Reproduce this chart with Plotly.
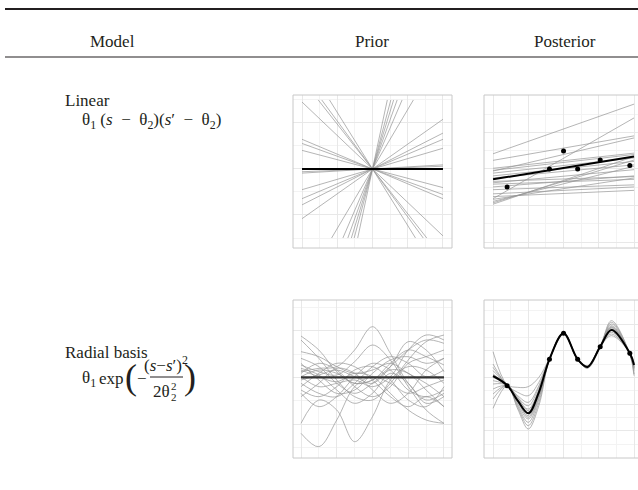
import plotly.graph_objects as go

W, H = 638, 490

# ---- linear kernel, prior: one end of each line (the other end is its mirror through 0)
prior_lin_xe = [1, 1, 1, 1, 1, 1, 1, 1, 1, 1, 0.77, 0.72, 0.61, 0.21, 0.26, 0.30, 0.35, 0.42, 0.58]
prior_lin_ye = [0.72, 0.52, 0.43, 0.30, 0.06, 0.04, -0.27, -0.37, -0.43, -0.97, -1, -1, -1, 1, 1, 1, 1, 1, 1]

# ---- linear kernel, posterior: value at s=0 and s=1 for each sampled line
post_lin_y0 = [0.22, -0.43, 0.125, -0.03, 0.01, -0.02, -0.06, -0.10, -0.13, -0.18,
               -0.22, -0.26, -0.30, -0.36, -0.40, -0.44, -0.47, -0.49, -0.51, -0.20]
post_lin_y1 = [0.94, 0.74, 0.48, 0.45, 0.23, 0.21, 0.16, 0.11, 0.06, -0.11,
               -0.15, -0.10, -0.23, -0.26, -0.31, -0.13, 0.04, 0.13, 0.18, -0.01]
post_lin_mean = [-0.15, 0.18]
obs_lin_x = [0.10, 0.40, 0.50, 0.60, 0.76, 0.97]
obs_lin_y = [-0.26, 0.0, 0.26, 0.0, 0.13, 0.05]

# ---- radial basis kernel, prior samples
rad_prior_x = [0, 0.125, 0.25, 0.375, 0.5, 0.625, 0.75, 0.875, 1]
rad_prior = [
    [0.17, 0.27, 0.32, 0.82, 1.52, 0.72, -0.18, -0.68, -0.48],
    [0.37, 0.17, 0.07, 0.47, 0.97, 0.52, -0.28, -0.98, -1.38],
    [1.24, 0.82, 0.17, -0.18, -0.08, 0.32, 0.82, 1.12, 1.02],
    [1.12, 0.57, -0.08, -0.58, -0.68, -0.18, 0.52, 1.07, 1.27],
    [-1.68, -2.08, -1.28, -0.28, 0.02, -0.18, -0.48, -0.28, -0.08],
    [-1.38, -0.68, -0.98, -1.93, -1.18, -0.08, 0.32, 0.22, -0.18],
    [0.02, -0.28, -0.18, -0.08, -0.28, 0.02, 0.82, 1.27, 1.12],
    [-0.08, 0.07, 0.22, 0.02, -0.18, 0.32, 1.07, 0.82, 0.17],
    [0.22, 0.02, -0.13, 0.12, 0.02, -0.48, -0.98, -1.28, -1.38],
    [0.57, 0.32, -0.18, -0.48, -0.18, 0.22, 0.12, -0.38, -0.88],
    [0.77, 0.62, 0.32, 0.12, 0.22, 0.42, 0.12, -0.18, -0.58],
    [-0.38, -0.58, -0.28, 0.22, 0.32, -0.08, -0.68, -0.88, -0.28],
    [-0.58, -0.18, 0.27, 0.12, -0.38, -0.78, -0.48, 0.22, 0.57],
    [0.12, 0.42, 0.22, -0.28, -0.58, -0.28, 0.42, 0.62, 0.82],
    [-0.18, -0.48, -0.58, -0.18, 0.32, 0.62, 0.42, 0.02, 0.22],
    [0.42, -0.08, -0.48, -0.38, 0.12, 0.52, 0.62, 0.42, 0.57],
    [-0.28, 0.12, 0.42, 0.32, -0.08, -0.58, -0.88, -0.58, -0.88],
    [0.27, 0.07, -0.38, -0.78, -0.48, 0.12, -0.18, -0.78, -0.58],
    [-0.48, -0.88, -0.58, 0.02, 0.42, 0.22, -0.38, -0.58, -0.38],
    [0.02, 0.22, 0.12, -0.18, -0.08, 0.42, 0.82, 0.62, 0.37],
]

# ---- radial basis kernel, posterior samples
rad_post_x = [0, 0.1, 0.175, 0.25, 0.325, 0.4, 0.5, 0.6, 0.67, 0.76, 0.84, 0.97, 1.0]
rad_post_mean = [0.04, -0.24, -0.70, -1.08, -0.45, 0.54, 1.32, 0.54, 0.31, 0.92, 1.42, 0.72, 0.37]
rad_post = [
    [0.77, -0.22, -0.30, -0.28, 0.00, 0.56, 1.30, 0.55, 0.33, 0.93, 1.30, 0.74, 0.45],
    [0.40, -0.24, -0.45, -0.55, -0.15, 0.55, 1.31, 0.54, 0.35, 0.92, 1.25, 0.73, 0.42],
    [0.30, -0.25, -0.55, -0.75, -0.25, 0.54, 1.33, 0.53, 0.30, 0.91, 1.50, 0.70, 0.30],
    [0.20, -0.24, -0.60, -0.85, -0.30, 0.53, 1.32, 0.55, 0.28, 0.93, 1.60, 0.71, 0.20],
    [0.10, -0.25, -0.65, -0.95, -0.38, 0.54, 1.34, 0.54, 0.32, 0.92, 1.45, 0.72, 0.35],
    [0.00, -0.24, -0.75, -1.15, -0.50, 0.55, 1.31, 0.53, 0.30, 0.91, 1.55, 0.70, 0.25],
    [-0.10, -0.25, -0.80, -1.25, -0.60, 0.53, 1.33, 0.55, 0.27, 0.92, 1.70, 0.69, 0.05],
    [-0.20, -0.24, -0.85, -1.35, -0.65, 0.54, 1.32, 0.54, 0.34, 0.93, 1.35, 0.73, 0.40],
    [-0.35, -0.26, -0.90, -1.45, -0.75, 0.54, 1.33, 0.53, 0.31, 0.92, 1.40, 0.72, 0.32],
    [-0.50, -0.25, -0.95, -1.55, -0.85, 0.53, 1.31, 0.55, 0.29, 0.91, 1.65, 0.70, 0.10],
    [-0.65, -0.24, -0.70, -1.20, -0.55, 0.55, 1.34, 0.54, 0.33, 0.93, 1.48, 0.71, 0.30],
    [-0.93, -0.25, -0.60, -1.00, -0.40, 0.54, 1.32, 0.53, 0.30, 0.92, 1.52, 0.72, 0.28],
]
obs_rad_x = [0.10, 0.40, 0.50, 0.60, 0.76, 0.97]
obs_rad_y = [-0.25, 0.54, 1.32, 0.54, 0.92, 0.72]

GREY = "rgba(150,150,150,0.7)"
INK = "#231f20"
FONT = "Liberation Serif"


def px(x):
    return x / W


def py(y):
    return 1 - y / H


fig = go.Figure()

# linear prior
for xe, ye in zip(prior_lin_xe, prior_lin_ye):
    fig.add_trace(go.Scatter(x=[-xe, xe], y=[-ye, ye], mode="lines",
                             line=dict(color=GREY, width=1), xaxis="x", yaxis="y"))
fig.add_trace(go.Scatter(x=[-1, 1], y=[0, 0], mode="lines",
                         line=dict(color="black", width=2), xaxis="x", yaxis="y"))

# linear posterior
for a, b in zip(post_lin_y0, post_lin_y1):
    fig.add_trace(go.Scatter(x=[0, 1], y=[a, b], mode="lines",
                             line=dict(color=GREY, width=1), xaxis="x2", yaxis="y2"))
fig.add_trace(go.Scatter(x=[0, 1], y=post_lin_mean, mode="lines",
                         line=dict(color="black", width=2), xaxis="x2", yaxis="y2"))
fig.add_trace(go.Scatter(x=obs_lin_x, y=obs_lin_y, mode="markers",
                         marker=dict(color="black", size=5), xaxis="x2", yaxis="y2"))

# radial prior
for curve in rad_prior:
    fig.add_trace(go.Scatter(x=rad_prior_x, y=curve, mode="lines",
                             line=dict(color=GREY, width=1, shape="spline"),
                             xaxis="x3", yaxis="y3"))
fig.add_trace(go.Scatter(x=[0, 1], y=[0, 0], mode="lines",
                         line=dict(color="#333", width=2.2), xaxis="x3", yaxis="y3"))

# radial posterior
for curve in rad_post:
    fig.add_trace(go.Scatter(x=rad_post_x, y=curve, mode="lines",
                             line=dict(color=GREY, width=1, shape="spline"),
                             xaxis="x4", yaxis="y4"))
fig.add_trace(go.Scatter(x=rad_post_x, y=rad_post_mean, mode="lines",
                         line=dict(color="black", width=2, shape="spline"),
                         xaxis="x4", yaxis="y4"))
fig.add_trace(go.Scatter(x=obs_rad_x, y=obs_rad_y, mode="markers",
                         marker=dict(color="black", size=5), xaxis="x4", yaxis="y4"))


def ax(domain, rng, dtick, tick0=0, anchor=None):
    d = dict(domain=domain, range=rng, showticklabels=False, ticks="", zeroline=False,
             showgrid=True, gridcolor="#e8e8e8", gridwidth=1, tick0=tick0, dtick=dtick,
             showline=False, fixedrange=True,
             minor=dict(showgrid=True, gridcolor="#f3f3f3", dtick=dtick / 2, tick0=tick0))
    if anchor:
        d["anchor"] = anchor
    return d


prior_dom = [px(293), px(452)]
post_dom = [px(484), 1.0]
lin_dom = [py(248), py(95)]
rad_dom = [py(458), py(300)]

fig.update_layout(
    width=W, height=H, margin=dict(l=0, r=0, t=0, b=0),
    paper_bgcolor="white", plot_bgcolor="white", showlegend=False,
    xaxis=ax(prior_dom, [-1.128, 1.128], 0.5, anchor="y"),
    yaxis=ax(lin_dom, [-1.145, 1.072], 0.6667, anchor="x"),
    xaxis2=ax(post_dom, [-0.064, 1.028], 0.25, anchor="y2"),
    yaxis2=ax(lin_dom, [-1.145, 1.072], 0.53, anchor="x2"),
    xaxis3=ax(prior_dom, [-0.056, 1.056], 0.25, anchor="y3"),
    yaxis3=ax(rad_dom, [-2.42, 2.32], 1.4, anchor="x3"),
    xaxis4=ax(post_dom, [-0.064, 1.028], 0.25, anchor="y4"),
    yaxis4=ax(rad_dom, [-2.42, 2.32], 0.8, anchor="x4"),
)

# panel borders
border = dict(color="#c8c8c8", width=1)
for x0, x1 in [(293, 452), (484, 643)]:
    for y0, y1 in [(95, 248), (300, 458)]:
        fig.add_shape(type="rect", xref="paper", yref="paper",
                      x0=px(x0), x1=px(x1), y0=py(y1), y1=py(y0), line=border)

# table rules
fig.add_shape(type="line", xref="paper", yref="paper", x0=px(5), x1=1, y0=py(9), y1=py(9),
              line=dict(color=INK, width=2))
fig.add_shape(type="line", xref="paper", yref="paper", x0=px(5), x1=1, y0=py(57), y1=py(57),
              line=dict(color=INK, width=1.2))


def text(x, y, s, size=17, xanchor="center"):
    fig.add_annotation(x=px(x), y=py(y), xref="paper", yref="paper", text=s, showarrow=False,
                       xanchor=xanchor, yanchor="middle",
                       font=dict(family=FONT, size=size, color=INK))


SP = "\u2002"
text(112, 41, "Model")
text(372, 41, "Prior")
text(565, 41, "Posterior")

text(63, 100, "Linear", xanchor="left")
text(80, 121, "θ<sub>1</sub> (<i>s</i>" + SP + "−" + SP + "θ<sub>2</sub>)(<i>s</i>′" + SP + "−" + SP
     + "θ<sub>2</sub>)", xanchor="left")

# radial basis formula, built piece by piece
text(63, 352, "Radial basis", xanchor="left")
text(80, 379, "θ<sub>1</sub>", xanchor="left")
text(97, 378, "exp", xanchor="left")
text(131, 377, "(", size=36)
text(142, 378, "−", size=17)
text(166, 364, "(<i>s</i>−<i>s</i>′)<sup>2</sup>", size=17)
text(161, 391, "2θ", size=17)
text(174, 386, "2", size=11)
text(174, 397, "2", size=11)
text(190, 377, ")", size=36)
fig.add_shape(type="line", xref="paper", yref="paper", x0=px(150), x1=px(183),
              y0=py(377), y1=py(377), line=dict(color=INK, width=1))

fig.write_html("out.html", config={"displayModeBar": False},
               post_script="document.body.style.margin='0';document.body.style.overflow='hidden';")
